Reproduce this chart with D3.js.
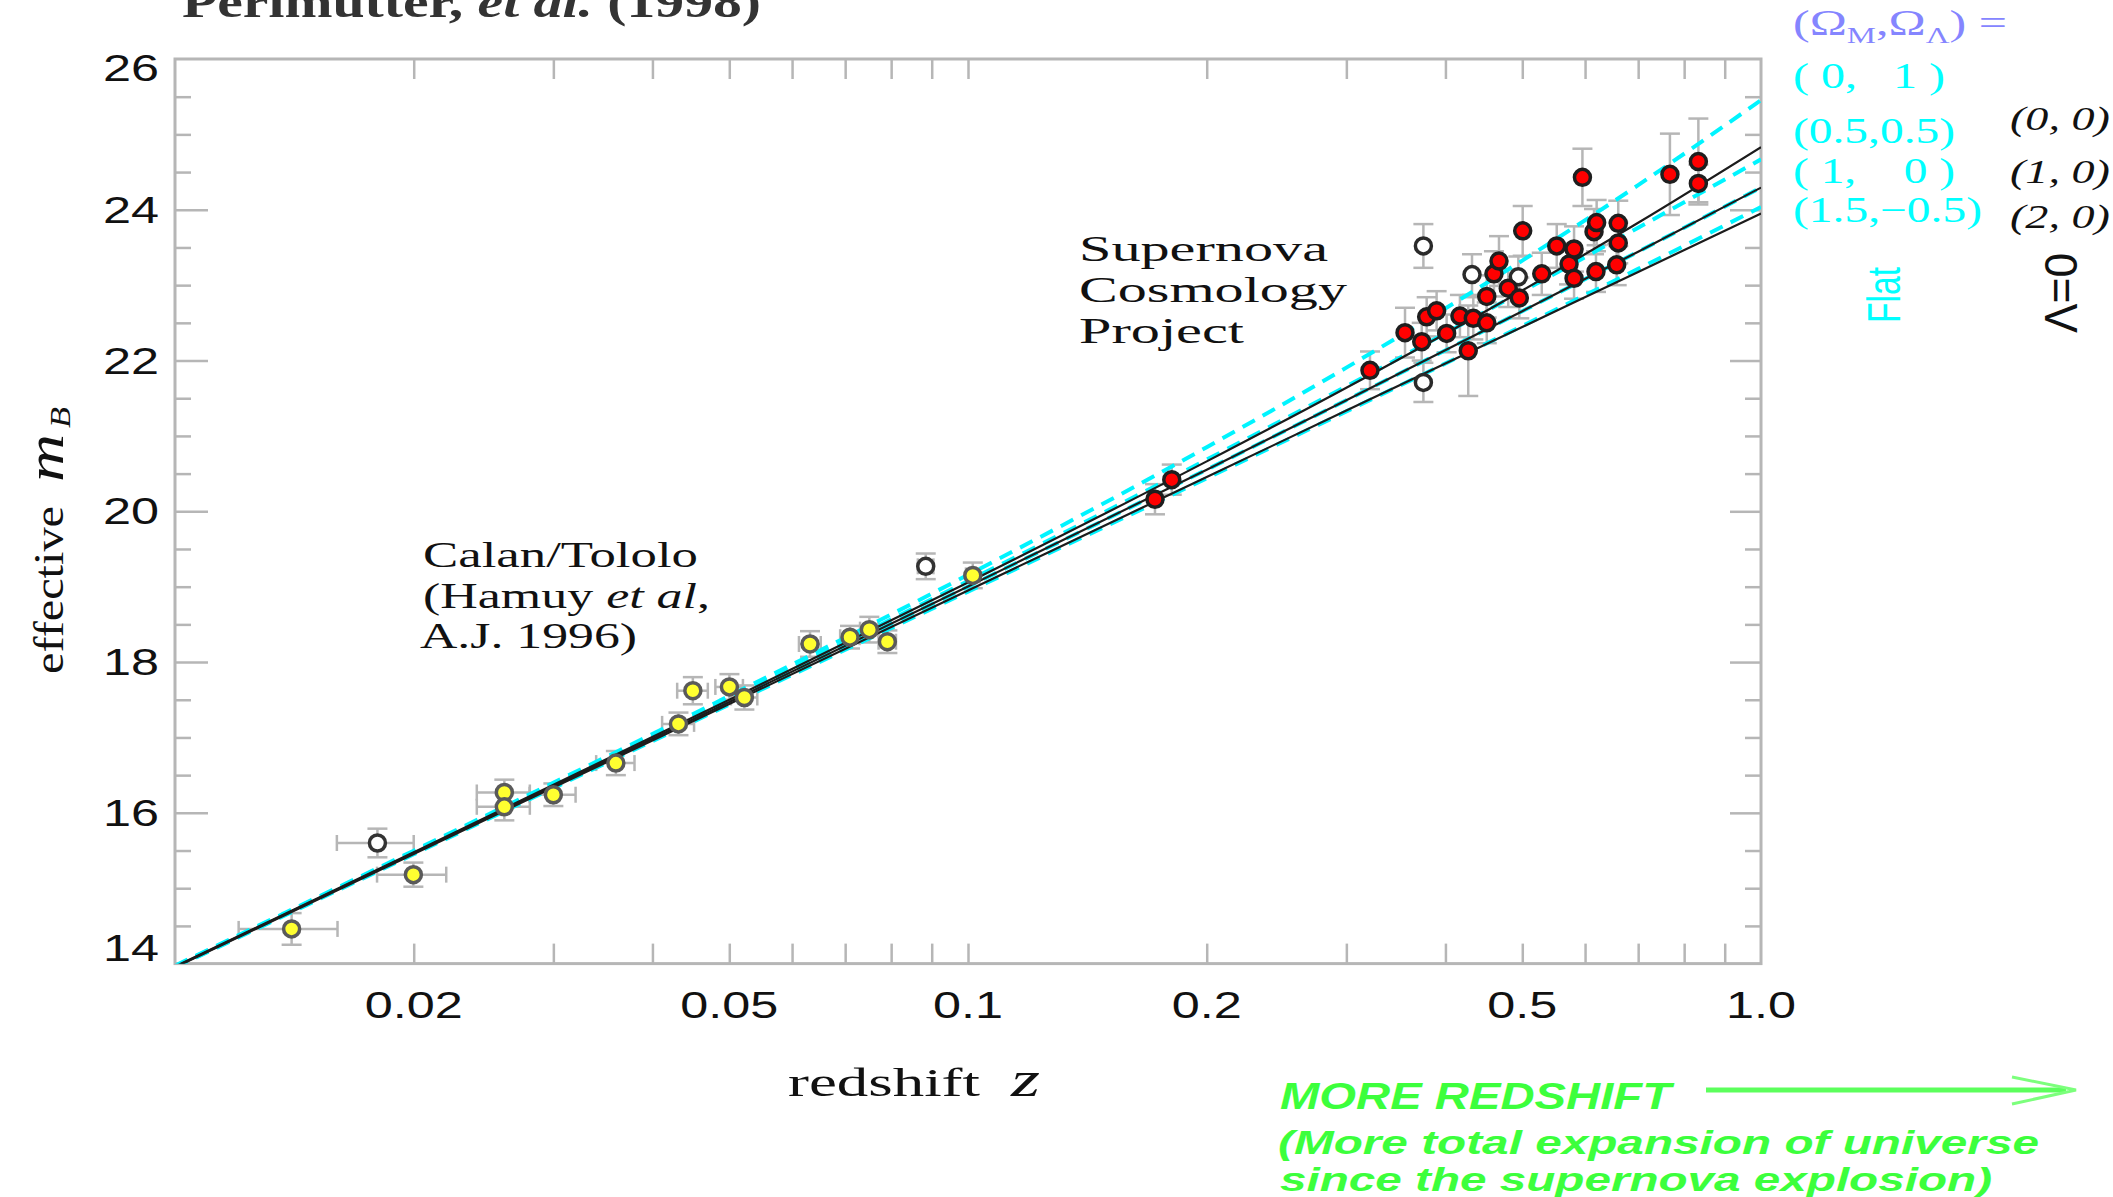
<!DOCTYPE html>
<html><head><meta charset="utf-8">
<script src="https://cdn.jsdelivr.net/npm/d3@7"></script>
<style>html,body{margin:0;padding:0;background:#fff;overflow:hidden}</style>
</head><body>
<svg id="c" width="2113" height="1197" xmlns="http://www.w3.org/2000/svg"></svg>
<script>
// ---------------- data ----------------
// Calan/Tololo supernovae (yellow)
const ctZ    = [0.01403,0.01998,0.02602,0.02602,0.03000,0.03597,0.04314,0.04498,0.05002,0.05224,0.06321,0.07099,0.07509,0.07913,0.1014];
const ctM    = [14.46,15.18,16.27,16.08,16.24,16.66,17.18,17.62,17.67,17.53,18.24,18.33,18.43,18.27,19.15];
const ctMErr = [0.21,0.16,0.17,0.18,0.15,0.16,0.15,0.18,0.17,0.16,0.17,0.15,0.17,0.15,0.17];
const ctZErr = [0.002,0.002,0.002,0.002,0.002,0.002,0.002,0.002,0.002,0.002,0.002,0.002,0.002,0.002,0.002];
// excluded low-z (open)
const ctOpenZ    = [0.0180,0.08845];
const ctOpenM    = [15.60,19.27];
const ctOpenMErr = [0.19,0.17];
const ctOpenZErr = [0.002,0.002];
// Supernova Cosmology Project (red)
const scpZ    = [0.1721,0.1807,0.3213,0.3557,0.3734,0.3788,0.3899,0.4014,0.4172,0.4337,0.4274,0.4510,0.4510,0.4605,0.4673,0.4800,0.4957,0.5006,0.5291,0.5526,0.5727,0.5811,0.5811,0.5954,0.6158,0.6205,0.6193,0.6607,0.6607,0.6577,0.7676,0.8337,0.8337];
const scpM    = [20.16,20.42,21.87,22.37,22.25,22.58,22.66,22.36,22.59,22.56,22.13,22.50,22.85,23.15,23.32,22.96,22.83,23.72,23.15,23.52,23.28,23.48,23.09,24.43,23.71,23.83,23.18,23.82,23.56,23.27,24.47,24.64,24.35];
const scpMErr = [0.2,0.2,0.25,0.33,0.25,0.26,0.26,0.25,0.28,0.28,0.6,0.27,0.28,0.3,0.33,0.25,0.27,0.33,0.28,0.29,0.27,0.3,0.27,0.38,0.3,0.3,0.27,0.3,0.27,0.27,0.54,0.57,0.25];
// excluded high-z (open)
const scpOpenZ    = [0.3752,0.3752,0.4321,0.4943];
const scpOpenM    = [23.52,21.71,23.14,23.11];
const scpOpenMErr = [0.29,0.26,0.27,0.27];

// model curves
const modelZ      = [0.01,0.02,0.05,0.1,0.2,0.3,0.5,0.7,1.0];
const mLam0_0_0   = [13.961,15.477,17.499,19.056,20.662,21.639,22.930,23.828,24.831];
const mLam0_1_0   = [13.955,15.466,17.471,19.001,20.552,21.474,22.654,23.444,24.294];
const mLam0_2_0   = [13.950,15.455,17.445,18.950,20.455,21.336,22.445,23.175,23.950];
const mFlat_0_1   = [13.972,15.498,17.551,19.157,20.851,21.906,23.326,24.327,25.455];
const mFlat_05_05 = [13.964,15.482,17.510,19.075,20.686,21.658,22.916,23.762,24.669];
const mFlat_1_0   = [13.955,15.466,17.471,19.001,20.552,21.474,22.654,23.444,24.294];
const mFlat_15_m05= [13.947,15.450,17.435,18.934,20.438,21.325,22.458,23.216,24.036];

// ticks / labels
const xTickVals   = [0.02,0.05,0.1,0.2,0.5,1.0];
const xTickLabels = ["0.02","0.05","0.1","0.2","0.5","1.0"];
const yTickVals   = [14,16,18,20,22,24,26];
const yTickLabels = ["14","16","18","20","22","24","26"];
const legendHead  = ["(\u03A9","M",",\u03A9","\u039B",") ="];
const legendFlat  = ["( 0,   1 )","(0.5,0.5)","( 1,    0 )","(1.5,\u22120.5)"];
const legendLam0  = ["(0, 0)","(1, 0)","(2, 0)"];

// ---------------- drawing ----------------
const svg = d3.select('#c');
const L=175, R=1761, T=59, B=963.6;
const x = d3.scaleLog().domain([0.01,1]).range([L,R]);
const y = d3.scaleLinear().domain([14,26]).range([B,T]);
const SERIF = "'Liberation Serif','Times New Roman',serif";
const SANS  = "'Liberation Sans',Arial,Helvetica,sans-serif";
const GRAY = "#b6b6b6";
const nb = s => s.replace(/ /g,"\u00A0");

svg.append('defs').append('clipPath').attr('id','plotclip')
  .append('rect').attr('x',L).attr('y',T).attr('width',R-L).attr('height',B-T);

// axes ticks
const minorX = x.ticks().filter(v => v>0.0101 && v<0.99);
function styleAxis(g){ g.select('.domain').remove(); g.selectAll('.tick line').attr('stroke',GRAY).attr('stroke-width',2.5); g.selectAll('.tick text').remove(); }
svg.append('g').attr('transform',`translate(0,${B})`)
  .call(d3.axisBottom(x).tickValues(minorX).tickSize(-20).tickFormat('')).call(styleAxis);
svg.append('g').attr('transform',`translate(0,${T})`)
  .call(d3.axisTop(x).tickValues(minorX).tickSize(-20).tickFormat('')).call(styleAxis);
const yMinor = d3.range(14.5,26,0.5);
const gl = svg.append('g').attr('transform',`translate(${L},0)`)
  .call(d3.axisLeft(y).tickValues(yMinor).tickSize(-16).tickFormat('')).call(styleAxis);
gl.selectAll('.tick line').attr('x2', d => (d%2===0)?33:16);
const gr = svg.append('g').attr('transform',`translate(${R},0)`)
  .call(d3.axisRight(y).tickValues(yMinor).tickSize(-16).tickFormat('')).call(styleAxis);
gr.selectAll('.tick line').attr('x2', d => (d%2===0)?-31:-16);

// frame
svg.append('rect').attr('x',L).attr('y',T).attr('width',R-L).attr('height',B-T)
  .attr('fill','none').attr('stroke',GRAY).attr('stroke-width',3);

// tick labels (horizontally stretched sans)
svg.append('g').selectAll('text').data(xTickVals).join('text')
  .attr('transform',(d)=>`translate(${x(d)},1018) scale(1.4,1)`)
  .attr('text-anchor','middle').attr('font-family',SANS).attr('font-size',36).attr('fill','#111')
  .text((d,i)=>xTickLabels[i]);
svg.append('g').selectAll('text').data(yTickVals).join('text')
  .attr('transform',(d)=>{const by = d===26 ? y(d)+22 : d===14 ? y(d)-3 : y(d)+13; return `translate(159,${by}) scale(1.4,1)`;})
  .attr('text-anchor','end').attr('font-family',SANS).attr('font-size',36).attr('fill','#111')
  .text((d,i)=>yTickLabels[i]);

// error bars
const eb = svg.append('g').attr('stroke',GRAY).attr('stroke-width',2.5).attr('fill','none');
function errBars(zs, ms, me, ze){
  zs.forEach((z,i)=>{
    const cx=x(z), y1=y(ms[i]-me[i]), y2=y(ms[i]+me[i]), cy=y(ms[i]);
    eb.append('line').attr('x1',cx).attr('x2',cx).attr('y1',y1).attr('y2',y2);
    eb.append('line').attr('x1',cx-10).attr('x2',cx+10).attr('y1',y1).attr('y2',y1);
    eb.append('line').attr('x1',cx-10).attr('x2',cx+10).attr('y1',y2).attr('y2',y2);
    if (ze){
      const xa=x(z-ze[i]), xb=x(z+ze[i]);
      eb.append('line').attr('x1',xa).attr('x2',xb).attr('y1',cy).attr('y2',cy);
      eb.append('line').attr('x1',xa).attr('x2',xa).attr('y1',cy-8).attr('y2',cy+8);
      eb.append('line').attr('x1',xb).attr('x2',xb).attr('y1',cy-8).attr('y2',cy+8);
    }
  });
}
errBars(ctZ,ctM,ctMErr,ctZErr);
errBars(ctOpenZ,ctOpenM,ctOpenMErr,ctOpenZErr);
errBars(scpZ,scpM,scpMErr,null);
errBars(scpOpenZ,scpOpenM,scpOpenMErr,null);

// model lines
const line = d3.line().x(d=>x(d[0])).y(d=>y(d[1])).curve(d3.curveMonotoneX);
const lg = svg.append('g').attr('clip-path','url(#plotclip)').attr('fill','none');
[mFlat_0_1,mFlat_05_05,mFlat_1_0,mFlat_15_m05].forEach(ms=>{
  lg.append('path').attr('d',line(modelZ.map((z,i)=>[z,ms[i]])))
    .attr('stroke','#00f4ff').attr('stroke-width',4).attr('stroke-dasharray','14,9');
});
[mLam0_0_0,mLam0_1_0,mLam0_2_0].forEach(ms=>{
  lg.append('path').attr('d',line(modelZ.map((z,i)=>[z,ms[i]])))
    .attr('stroke','#1c1c1c').attr('stroke-width',2.2);
});

// markers
function markers(zs, ms, fill, stroke){
  svg.append('g').selectAll('circle').data(zs).join('circle')
    .attr('cx',d=>x(d)).attr('cy',(d,i)=>y(ms[i])).attr('r',8)
    .attr('fill',fill).attr('stroke',stroke).attr('stroke-width',3.5);
}
markers(ctOpenZ,ctOpenM,'#fff','#333');
markers(scpOpenZ,scpOpenM,'#fff','#2a2a2a');
markers(ctZ,ctM,'#ffff30','#5a5a5a');
markers(scpZ,scpM,'#ff0000','#1e1e1e');

// generic text helper
function txt(o){
  const t = svg.append('text')
    .attr('font-family',o.family||SERIF).attr('font-size',o.size)
    .attr('fill',o.fill||'#111');
  if (o.rot){ t.attr('transform',`translate(${o.x},${o.y}) rotate(-90)`); }
  else { t.attr('x',o.x).attr('y',o.y); }
  if (o.weight) t.attr('font-weight',o.weight);
  if (o.style) t.attr('font-style',o.style);
  if (o.text!==undefined) t.text(nb(o.text));
  if (o.len) t.attr('textLength',o.len).attr('lengthAdjust','spacingAndGlyphs');
  return t;
}

// title (cut off at the top, as in the original)
const tt = txt({x:182,y:17,size:44,weight:'bold',fill:'#333',len:579});
tt.append('tspan').text(nb('Perlmutter, '));
tt.append('tspan').attr('font-style','italic').text(nb('et al.'));
tt.append('tspan').text(nb(' (1998)'));

// axis titles
txt({x:788,y:1096,size:40,text:'redshift',len:192});
txt({x:1011,y:1096,size:50,style:'italic',text:'z',len:29});
txt({x:63,y:674,size:42,text:'effective',len:168,rot:true});
txt({x:63,y:482,size:52,style:'italic',text:'m',len:48,rot:true});
txt({x:70,y:428,size:30,style:'italic',text:'B',len:21,rot:true});

// annotations
txt({x:423,y:567,size:36,text:'Calan/Tololo',len:275});
const h2 = txt({x:423,y:608,size:36,len:287});
h2.append('tspan').text(nb('(Hamuy '));
h2.append('tspan').attr('font-style','italic').text(nb('et al'));
h2.append('tspan').text(',');
txt({x:420,y:648,size:36,text:'A.J. 1996)',len:217});
txt({x:1079,y:261,size:36.5,text:'Supernova',len:249});
txt({x:1079,y:302,size:36.5,text:'Cosmology',len:268});
txt({x:1079,y:343,size:36.5,text:'Project',len:165});

// legend
const lh = txt({x:1793,y:35,size:35,fill:'#8585ff',len:214});
lh.append('tspan').text(legendHead[0]);
lh.append('tspan').attr('font-size',23).attr('dy',8).text(legendHead[1]);
lh.append('tspan').attr('dy',-8).text(legendHead[2]);
lh.append('tspan').attr('font-size',23).attr('dy',8).text(legendHead[3]);
lh.append('tspan').attr('dy',-8).text(nb(legendHead[4]));
const flatY=[88,143,183,222], flatLen=[152,162,162,189];
legendFlat.forEach((s,i)=>txt({x:1793,y:flatY[i],size:35,fill:'#00ffff',text:s,len:flatLen[i]}));
const lamY=[130,183,228];
legendLam0.forEach((s,i)=>txt({x:2010,y:lamY[i],size:33,style:'italic',fill:'#111',text:s,len:100}));
txt({x:1900,y:323,size:46,family:SANS,fill:'#00ffff',text:'Flat',len:56,rot:true});
txt({x:2077,y:333,size:46,family:SANS,fill:'#111',text:'\u039B=0',len:80,rot:true});

// green note + arrow
const GREEN='#3cff3c';
txt({x:1280,y:1109,size:37,family:SANS,weight:'bold',style:'italic',fill:GREEN,text:'MORE REDSHIFT',len:391});
txt({x:1278,y:1154,size:34,family:SANS,weight:'bold',style:'italic',fill:GREEN,text:'(More total expansion of universe',len:761});
txt({x:1280,y:1191,size:34,family:SANS,weight:'bold',style:'italic',fill:GREEN,text:'since the supernova explosion)',len:712});
svg.append('line').attr('x1',1706).attr('x2',2066).attr('y1',1090).attr('y2',1090)
  .attr('stroke','#5cff5c').attr('stroke-width',5);
svg.append('polyline').attr('points','2012,1077 2076,1090 2012,1104')
  .attr('fill','none').attr('stroke','#7cff7c').attr('stroke-width',3);
</script>
</body></html>
